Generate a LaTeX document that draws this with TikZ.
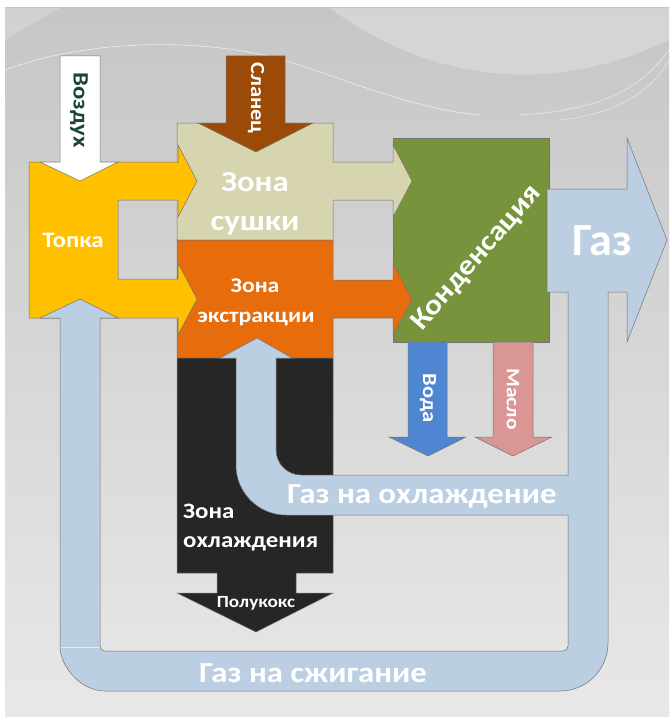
\documentclass[tikz,border=0pt]{standalone}
\usepackage{fontspec}
\setmainfont[FakeStretch=1.13]{Carlito}
\newfontfamily\gasfont{Carlito}
\definecolor{bgtop}{HTML}{C6C6C6}
\definecolor{bgbot}{HTML}{E8E8E8}
\definecolor{cyellow}{HTML}{FFC000}
\definecolor{cbeige}{HTML}{D6D5B0}
\definecolor{corange}{HTML}{E66C0C}
\definecolor{cgreen}{HTML}{77933C}
\definecolor{cblue}{HTML}{BCCEE2}
\definecolor{cblack}{HTML}{262626}
\definecolor{cbrown}{HTML}{9C4A08}
\definecolor{cwater}{HTML}{4F86D2}
\definecolor{coil}{HTML}{D99694}
\definecolor{cair}{HTML}{1B4530}
\begin{document}
\begin{tikzpicture}[x=1pt,y=-1pt,
  shp/.style={draw=black!55, line width=0.5pt, line join=miter},
  lbl/.style={text=white, font=\bfseries, inner sep=0pt}]
\useasboundingbox (0,0) rectangle (669,717);
\fill[white] (0,0) rectangle (669,717);
\shade[top color=bgtop, bottom color=bgbot] (5,8) rectangle (669,717);
% decorative swooshes
\fill[white, opacity=0.25] (330,8) .. controls (400,60) and (520,110) .. (669,40) -- (669,8) -- cycle;
\fill[white, opacity=0.2] (5,8) -- (60,8) .. controls (40,20) and (20,30) .. (5,40) -- cycle;
\draw[white, opacity=0.7, line width=0.6pt] (5,70) .. controls (100,35) and (220,40) .. (290,62) .. controls (360,85) and (420,110) .. (480,115);
\draw[white, opacity=0.6, line width=0.6pt] (669,50) .. controls (640,90) and (600,110) .. (520,115);
\draw[white, opacity=0.5, line width=0.6pt] (669,60) .. controls (650,95) and (610,115) .. (560,120);
% green condensation block
\path[shp, fill=cgreen] (393,138) rectangle (549,342);
% drying zone
\path[shp, fill=cbeige] (177,123) -- (333,123) -- (333,162) -- (393,162) -- (393,145) -- (412,181) -- (393,217) -- (393,200) -- (333,200) -- (333,240) -- (177,240) -- cycle;
% extraction zone
\path[shp, fill=corange] (177,240) -- (333,240) -- (333,280) -- (393,280) -- (393,263) -- (412,299) -- (393,335) -- (393,318) -- (333,318) -- (333,358) -- (177,358) -- cycle;
% cooling zone
\path[shp, fill=cblack] (177,358) -- (333,358) -- (333,573) -- (296,573) -- (296,593) -- (333,593) -- (256,632) -- (177,593) -- (217,593) -- (217,573) -- (177,573) -- cycle;
% furnace
\path[shp, fill=cyellow] (29,162) -- (178,162) -- (178,145) -- (197,181) -- (178,217) -- (178,200) -- (118,200) -- (118,279) -- (178,279) -- (178,263) -- (197,299) -- (178,335) -- (178,318) -- (29,318) -- cycle;
% shale
\path[shp, fill=cbrown] (226,56) -- (285,56) -- (285,123) -- (313,123) -- (256,152) -- (198,123) -- (226,123) -- cycle;
% air
\path[shp, fill=white] (60,56) -- (100,56) -- (100,162) -- (118,162) -- (80,181) -- (40,162) -- (60,162) -- cycle;
% water, oil
\path[shp, fill=cwater] (408,342) -- (447,342) -- (447,437) -- (466,437) -- (428,456) -- (389,437) -- (408,437) -- cycle;
\path[shp, fill=coil] (493,342) -- (533,342) -- (533,437) -- (552,437) -- (513,456) -- (475,437) -- (493,437) -- cycle;
% gas network
\path[shp, fill=cblue] (667,240) -- (627,342) -- (627,292) -- (608,292) -- (608,643)
  .. controls (608,669.5) and (586.5,691) .. (560,691) -- (105,691)
  .. controls (80.1,691) and (60,666.1) .. (60,646) -- (60,318) -- (40,318) -- (80,299) -- (118,318) -- (100,318) -- (100,646)
  .. controls (100,648.8) and (102.2,651) .. (105,651) -- (563,651)
  .. controls (565.8,651) and (568,648.8) .. (568,646) -- (568,515) -- (286,515)
  .. controls (258.4,515) and (236,492.6) .. (236,465) -- (236,358) -- (220,358) -- (257,338) -- (292,358) -- (276,358) -- (276,450)
  .. controls (276,463.8) and (287.2,475) .. (301,475) -- (568,475) -- (568,292) -- (547,292) -- (547,189) -- (627,189) -- (627,138) -- cycle;
\draw[white, opacity=0.6, line width=0.8pt] (60.5,647) -- (99.5,647);
% labels
\node[lbl, text=cair, font=\bfseries\fontsize{22}{22}\selectfont, rotate=-90] (tair) at (79,110) {Воздух};
\node[lbl, font=\bfseries\fontsize{20}{20}\selectfont, rotate=-90] (tshale) at (256,98) {Сланец};
\node[lbl, font=\bfseries\fontsize{22}{22}\selectfont, anchor=base] (tfurn) at (73,247) {Топка};
\node[lbl, font=\bfseries\fontsize{29}{29}\selectfont, anchor=base] (tdry1) at (255,191) {Зона};
\node[lbl, font=\bfseries\fontsize{29}{29}\selectfont, anchor=base] (tdry2) at (255,230) {сушки};
\node[lbl, font=\bfseries\fontsize{21}{21}\selectfont, anchor=base] (tex1) at (255,292) {Зона};
\node[lbl, font=\bfseries\fontsize{21}{21}\selectfont, anchor=base] (tex2) at (256,322) {экстракции};
\node[lbl, font=\bfseries\fontsize{28}{28}\selectfont, rotate=49] (tcond) at (477,258) {Конденсация};
\node[lbl, font=\gasfont\bfseries\fontsize{46}{46}\selectfont, anchor=base] (tgas) at (602,255) {Газ};
\node[lbl, font=\bfseries\fontsize{20}{20}\selectfont, rotate=-90] (twater) at (428,398) {Вода};
\node[lbl, font=\bfseries\fontsize{19}{19}\selectfont, rotate=-90] (toil) at (513,399) {Масло};
\node[lbl, font=\bfseries\fontsize{29}{29}\selectfont, anchor=base west] (tcoolgas) at (287,503) {Газ на охлаждение};
\node[lbl, font=\bfseries\fontsize{22}{22}\selectfont, anchor=base west] (tcool1) at (183,518) {Зона};
\node[lbl, font=\bfseries\fontsize{22}{22}\selectfont, anchor=base west] (tcool2) at (183,547) {охлаждения};
\node[lbl, font=\bfseries\fontsize{17}{17}\selectfont, anchor=base] (tcoke) at (256,607) {Полукокс};
\node[lbl, font=\bfseries\fontsize{29}{29}\selectfont, anchor=base west] (tburn) at (199,682) {Газ на сжигание};
\end{tikzpicture}
\end{document}
